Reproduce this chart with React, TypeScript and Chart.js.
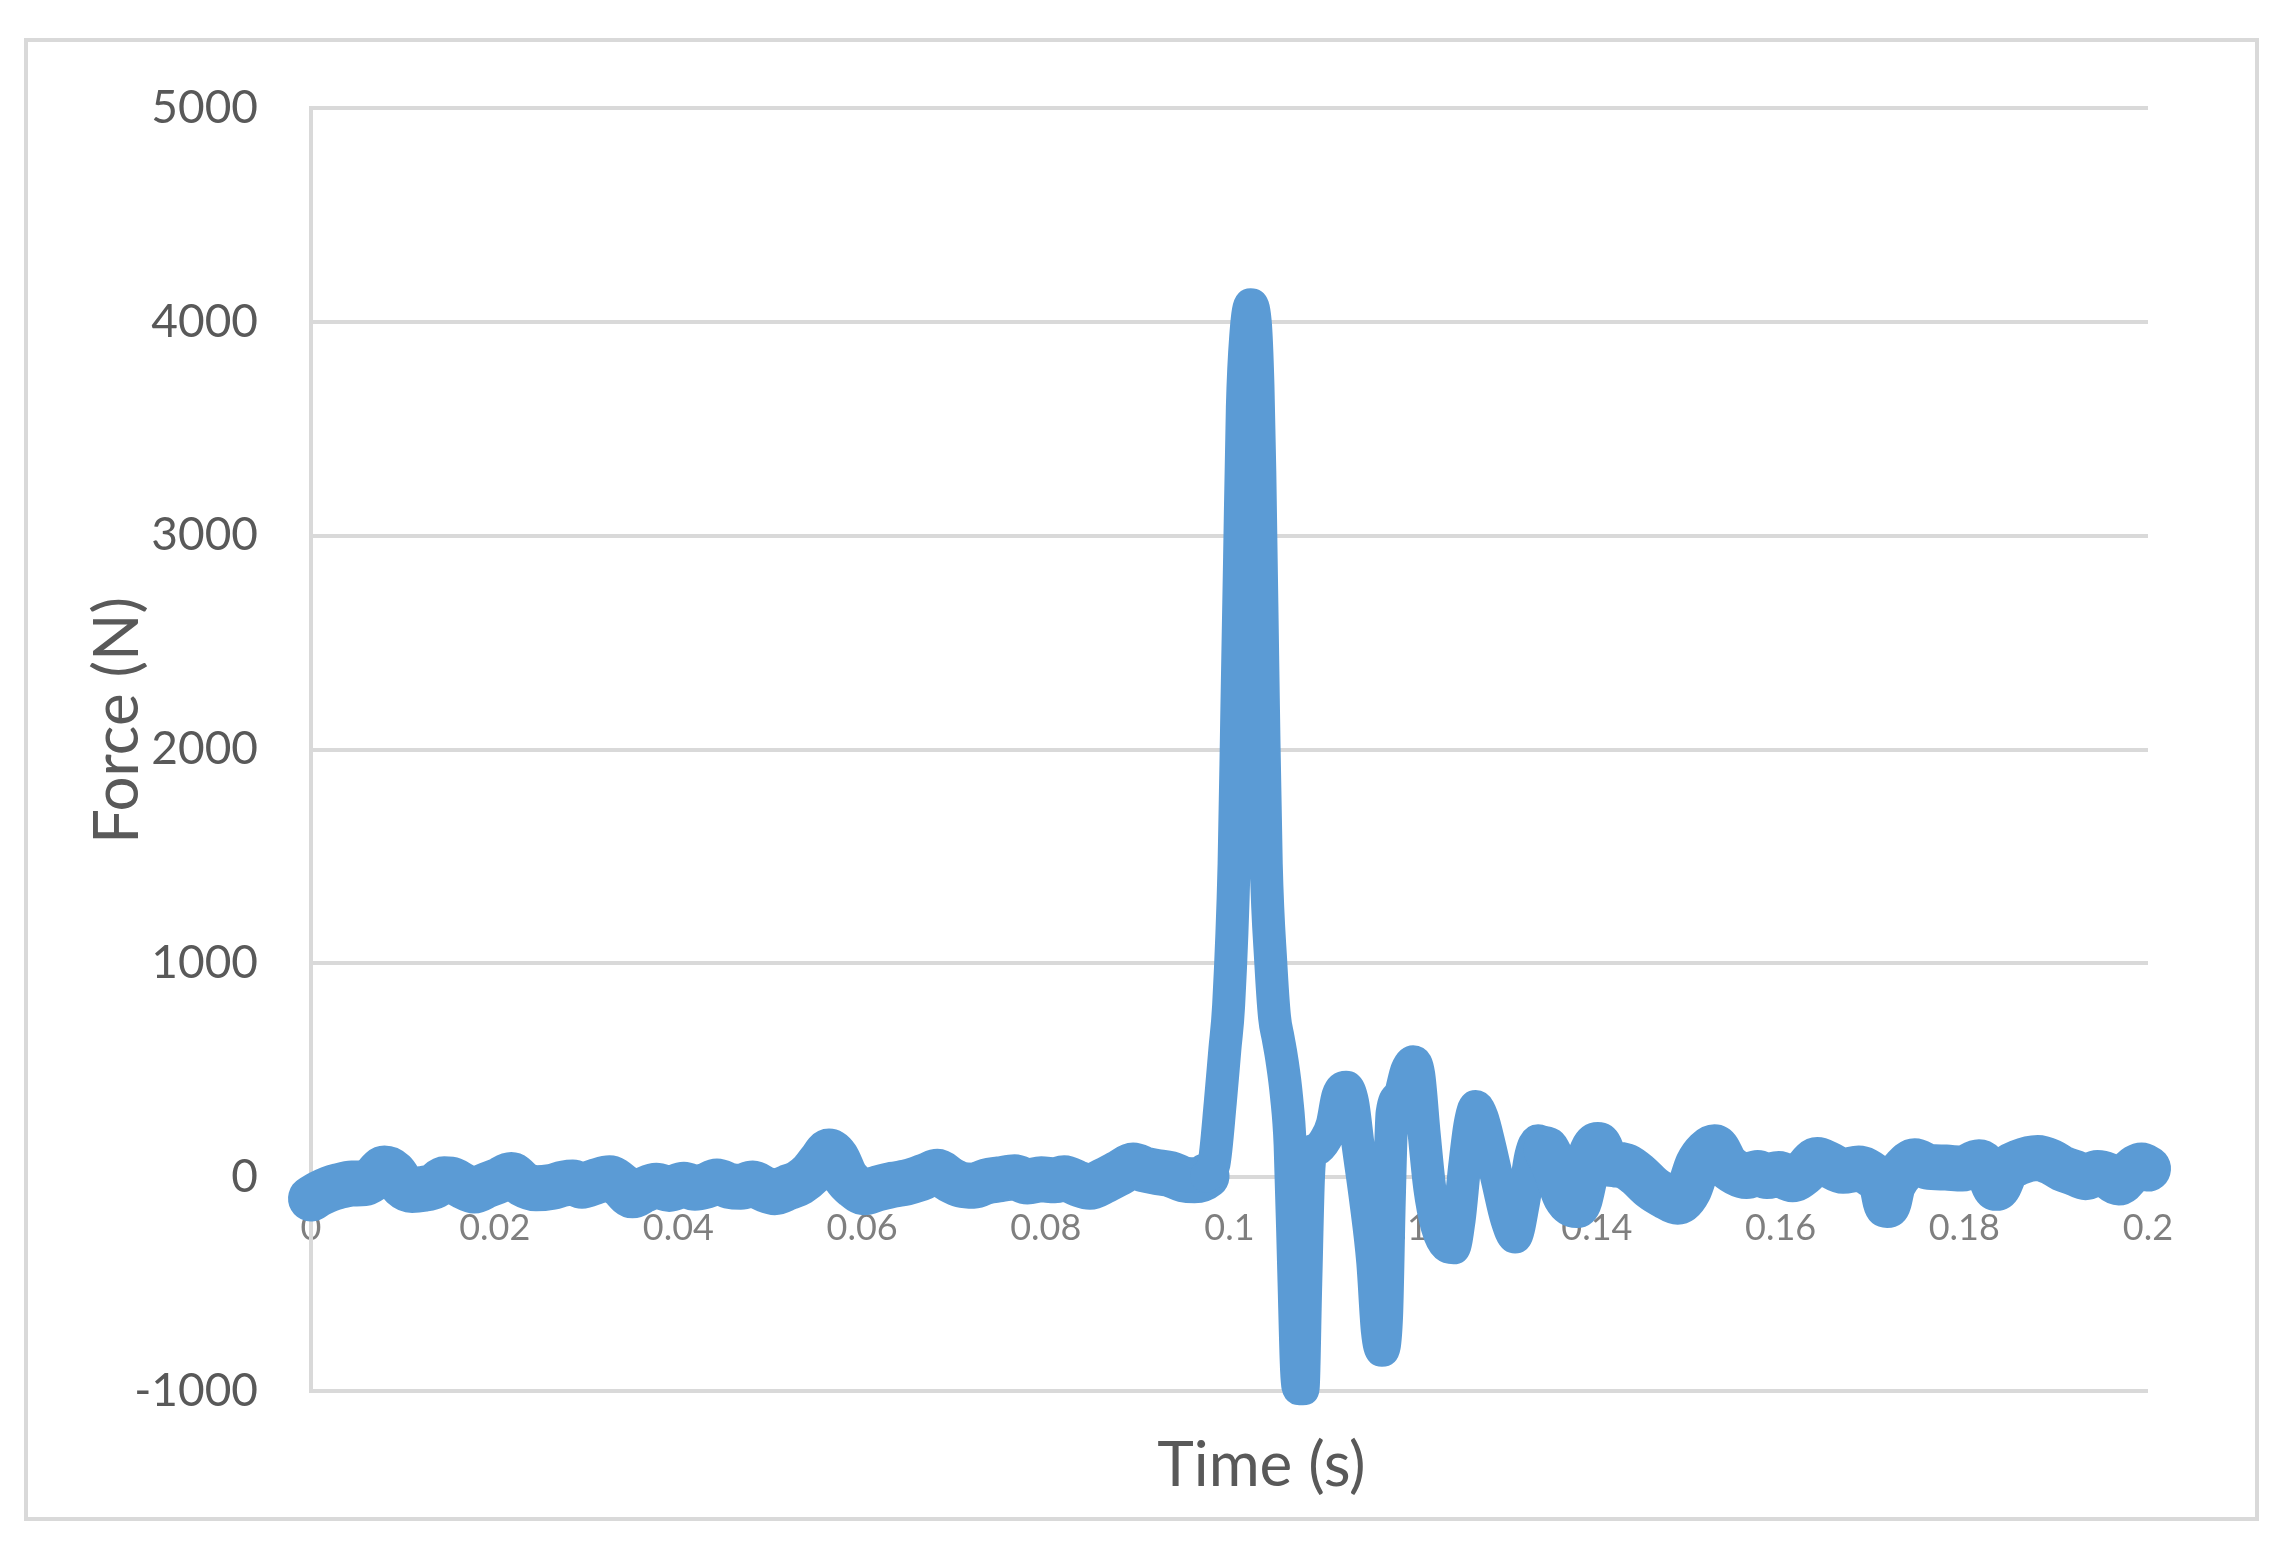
import { useEffect, useRef } from "react";
import { Chart, registerables } from "chart.js";

Chart.register(...registerables);

// Time (s)
const times = [
  0.0, 0.001, 0.002, 0.003, 0.0045, 0.0058, 0.0068, 0.008, 0.009, 0.01,
  0.011, 0.0122, 0.0135, 0.0145, 0.0155, 0.0165, 0.0178, 0.019, 0.0205, 0.0218,
  0.023, 0.0245, 0.0262, 0.0275, 0.0285, 0.0295, 0.031, 0.0325, 0.0338, 0.035,
  0.0362, 0.0376, 0.039, 0.0406, 0.0418, 0.043, 0.0442, 0.0455, 0.0468, 0.0481,
  0.0493, 0.0505, 0.0518, 0.0532, 0.0545, 0.0556, 0.0564, 0.0572, 0.0582, 0.0592,
  0.0602, 0.0615, 0.0634, 0.0648, 0.066, 0.0672, 0.0682, 0.0695, 0.0708, 0.0722,
  0.0735, 0.075, 0.0766, 0.078, 0.0795, 0.081, 0.082, 0.0835, 0.0848, 0.0862,
  0.088, 0.0895, 0.0908, 0.092, 0.0935, 0.095, 0.0962, 0.0975, 0.0983, 0.099,
  0.0995, 0.0999, 0.1005, 0.1008, 0.1011, 0.1014, 0.1018, 0.1023, 0.1028, 0.1031,
  0.1033, 0.1037, 0.104, 0.1045, 0.1049, 0.1053, 0.1057, 0.1062, 0.1066, 0.107,
  0.1073, 0.1076, 0.108, 0.1083, 0.1086, 0.1089, 0.1095, 0.1105, 0.1112, 0.1118,
  0.1127, 0.1134, 0.114, 0.1148, 0.1156, 0.1161, 0.1166, 0.1171, 0.1174, 0.1177,
  0.1185, 0.1193, 0.12, 0.1206, 0.1212, 0.1218, 0.1226, 0.1236, 0.1244, 0.125,
  0.1256, 0.1262, 0.1268, 0.1275, 0.1283, 0.1292, 0.1302, 0.1311, 0.132, 0.1328,
  0.1336, 0.1345, 0.1355, 0.1366, 0.1378, 0.1388, 0.1395, 0.1401, 0.141, 0.142,
  0.1432, 0.1445, 0.146, 0.1475, 0.1488, 0.15, 0.151, 0.152, 0.1528, 0.154,
  0.1552, 0.1563, 0.1575, 0.1585, 0.1598, 0.1613, 0.1625, 0.164, 0.1652, 0.1668,
  0.1685, 0.17, 0.171, 0.1716, 0.1722, 0.1735, 0.1746, 0.176, 0.178, 0.1798,
  0.1816, 0.1826, 0.1835, 0.1845, 0.186, 0.188, 0.1895, 0.1907, 0.192, 0.1932,
  0.1945, 0.1955, 0.1968, 0.198, 0.1993, 0.2,
];

// Force (N)
const forces = [
  -100, -75, -55, -42, -30, -28, -5, 40, 20, -40,
  -60, -55, -40, -10, -15, -40, -62, -40, -15, 10,
  -30, -52, -45, -30, -25, -40, -20, -5, -40, -85,
  -60, -40, -55, -35, -50, -40, -20, -40, -45, -30,
  -55, -70, -50, -25, 20, 80, 120, 90, 0, -45,
  -70, -55, -35, -25, -10, 10, 25, -10, -35, -40,
  -20, -10, 0, -20, -10, -15, -5, -30, -45, -20,
  20, 55, 35, 25, 15, -10, -15, 5, 60, 350,
  600, 800, 1466, 2183, 2900, 3600, 3950, 4080, 4000, 3700,
  3300, 2183, 1466, 1000, 750, 650, 550, 380, 150, -450,
  -900, -990, -990, -500, 0, 110, 130, 180, 250, 380,
  420, 350, 150, -100, -400, -720, -810, -650, -100, 300,
  380, 500, 540, 480, 200, -50, -230, -320, -330, -200,
  50, 250, 330, 280, 150, -20, -200, -280, -120, 100,
  170, 130, 40, -90, -130, 20, 120, 150, 70, 60,
  50, 10, -50, -90, -115, -60, 60, 120, 140, 60,
  20, 5, 20, 5, 15, -10, 20, 80, 60, 30,
  40, 10, -30, -130, -40, 40, 75, 50, 45, 40,
  70, 30, -50, 30, 70, 90, 70, 40, 20, 0,
  20, 10, -25, 20, 55, 40,
];

const xTickValues = [0, 0.02, 0.04, 0.06, 0.08, 0.1, 0.12, 0.14, 0.16, 0.18, 0.2];
const yTickValues = [-1000, 0, 1000, 2000, 3000, 4000, 5000];

const X_TITLE = "Time (s)";
const Y_TITLE = "Force (N)";

const LINE_COLOR = "#5B9BD5";
const GRID_COLOR = "#d9d9d9";
const TEXT_COLOR = "#595959";
const FONT = "Lato, 'Open Sans', sans-serif";

const CANVAS_W = 2227;
const CANVAS_H = 1475;

const axisTitles = {
  id: "axisTitles",
  afterDraw(chart: any) {
    const { ctx, chartArea } = chart;
    ctx.save();
    ctx.fillStyle = TEXT_COLOR;
    ctx.font = `62px ${FONT}`;
    ctx.textAlign = "center";
    ctx.textBaseline = "alphabetic";
    const cx = (chartArea.left + chartArea.right) / 2 + 32;
    ctx.fillText(X_TITLE, cx, chartArea.bottom + 95);
    ctx.translate(chartArea.left - 173, (chartArea.top + chartArea.bottom) / 2 - 29);
    ctx.rotate(-Math.PI / 2);
    ctx.fillText(Y_TITLE, 0, 0);
    ctx.restore();
  },
};

export default function App() {
  const ref = useRef<HTMLCanvasElement | null>(null);

  useEffect(() => {
    if (!ref.current) return;
    const points = times.map((t, i) => ({ x: t, y: forces[i] }));
    const chart = new Chart(ref.current, {
      type: "line",
      data: {
        datasets: [
          {
            data: points,
            borderColor: LINE_COLOR,
            backgroundColor: LINE_COLOR,
            borderWidth: 44,
            borderCapStyle: "round",
            borderJoinStyle: "round",
            pointRadius: 0,
            cubicInterpolationMode: "monotone",
            fill: false,
            clip: false as any,
            segment: {
              borderWidth: (c: any) => {
                const t = c.p0.parsed.x;
                return t >= 0.0975 && t < 0.1345 ? 33 : 46;
              },
            },
          },
        ],
      },
      options: {
        responsive: false,
        animation: false,
        events: [],
        layout: { padding: { left: 0, top: 66, right: 107, bottom: 126 } },
        plugins: {
          legend: { display: false },
          tooltip: { enabled: false },
          title: { display: false },
        },
        scales: {
          x: {
            type: "linear",
            position: { y: 0 } as any,
            min: 0,
            max: 0.2,
            afterFit: (s: any) => {
              s.height = 20;
              s.paddingTop = 0;
              s.paddingBottom = 0;
            },
            afterBuildTicks: (s: any) => {
              s.ticks = xTickValues.map((v) => ({ value: v }));
            },
            grid: { display: false, drawTicks: false },
            border: { display: false },
            ticks: {
              autoSkip: false,
              maxRotation: 0,
              padding: 30,
              color: "#7f7f7f",
              font: { family: FONT, size: 36 },
              callback: (v: any) => String(Number(Number(v).toFixed(2))),
            },
          },
          y: {
            type: "linear",
            position: "left",
            min: -1000,
            max: 5000,
            afterFit: (s: any) => {
              s.width = 283;
              s.paddingTop = 0;
              s.paddingBottom = 0;
            },
            afterBuildTicks: (s: any) => {
              s.ticks = yTickValues.map((v) => ({ value: v }));
            },
            grid: { color: GRID_COLOR, lineWidth: 4, drawTicks: false },
            border: { display: true, color: GRID_COLOR, width: 4 },
            ticks: {
              padding: 53,
              color: TEXT_COLOR,
              font: { family: FONT, size: 46 },
              callback: (v: any) => String(v),
            },
          },
        },
      },
      plugins: [axisTitles],
    });
    return () => chart.destroy();
  }, []);

  return (
    <div
      style={{
        position: "absolute",
        left: 24,
        top: 38,
        width: CANVAS_W + 8,
        height: CANVAS_H + 8,
        border: "4px solid #d9d9d9",
        boxSizing: "border-box",
        background: "#fff",
      }}
    >
      <canvas
        ref={ref}
        width={CANVAS_W}
        height={CANVAS_H}
        style={{ display: "block", width: CANVAS_W, height: CANVAS_H }}
      />
    </div>
  );
}
